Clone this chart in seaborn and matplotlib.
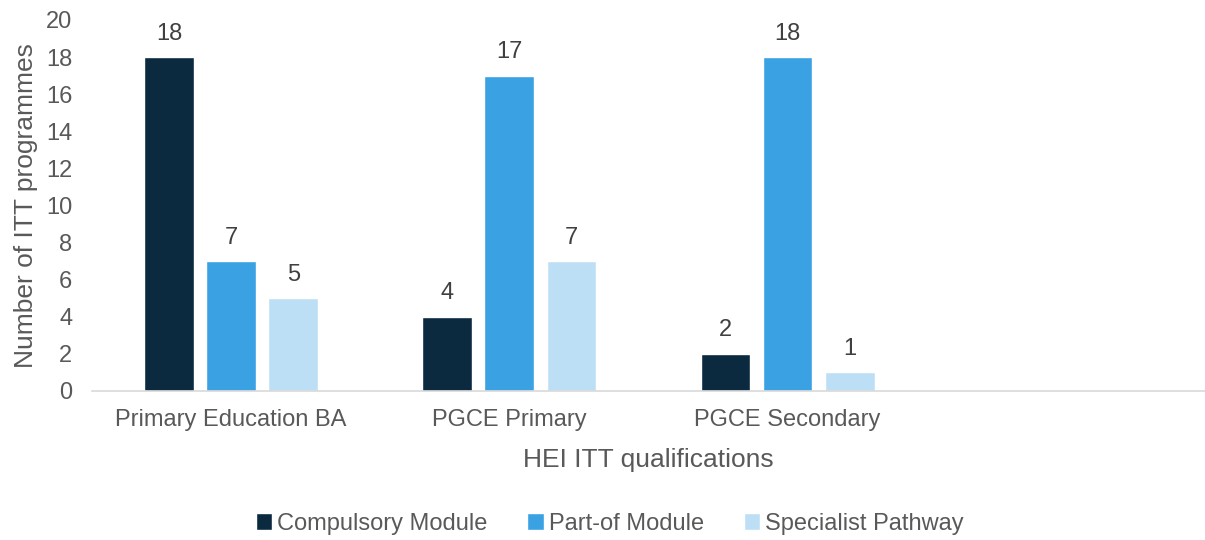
import pandas as pd
import seaborn as sns
import matplotlib.pyplot as plt

qualifications = ['Primary Education BA', 'PGCE Primary', 'PGCE Secondary']
series_names = ['Compulsory Module', 'Part-of Module', 'Specialist Pathway']
compulsory = [18, 4, 2]
part_of = [7, 17, 18]
specialist = [5, 7, 1]
colors = ['#0B2A3F', '#3AA1E3', '#BDDFF5']

rows = []
for name, vals in zip(series_names, [compulsory, part_of, specialist]):
    for q, v in zip(qualifications, vals):
        rows.append({'qualification': q, 'type': name, 'count': v})
df = pd.DataFrame(rows)

sns.set_style('white')
plt.rcParams['font.family'] = ['Liberation Sans', 'DejaVu Sans']
text_color = '#595959'

fig = plt.figure(figsize=(12.05, 5.4), dpi=100)
ax = fig.add_axes([0.0763, 0.276, 0.9237, 0.687])

sns.barplot(data=df, x='qualification', y='count', hue='type', order=qualifications,
            hue_order=series_names, palette=colors, width=0.67, gap=0.2,
            saturation=1, ax=ax, legend=True)

for cont in ax.containers:
    ax.bar_label(cont, padding=9, fontsize=17, color='#404040')

ax.set_xlim(-0.5, 3.5)
ax.set_ylim(0, 20)
ax.set_yticks(range(0, 21, 2))
ax.tick_params(axis='both', length=0, labelsize=17, labelcolor=text_color)
ax.tick_params(axis='x', pad=13)
ax.tick_params(axis='y', pad=14)

sns.despine(ax=ax, left=True)
ax.spines['bottom'].set_color('#D9D9D9')
ax.spines['bottom'].set_linewidth(1.2)

ax.set_xlabel('HEI ITT qualifications', fontsize=19, color=text_color, labelpad=12)
ax.set_ylabel('Number of ITT programmes', fontsize=19, color=text_color, labelpad=6)

handles, labels = ax.get_legend_handles_labels()
ax.get_legend().remove()
fig.legend(handles, labels, loc='center', bbox_to_anchor=(0.506, 0.03),
           ncol=3, frameon=False, fontsize=17, handlelength=0.7, handleheight=0.7,
           handletextpad=0.2, columnspacing=1.7, labelcolor=text_color)

fig.savefig('out.png', dpi=100)
